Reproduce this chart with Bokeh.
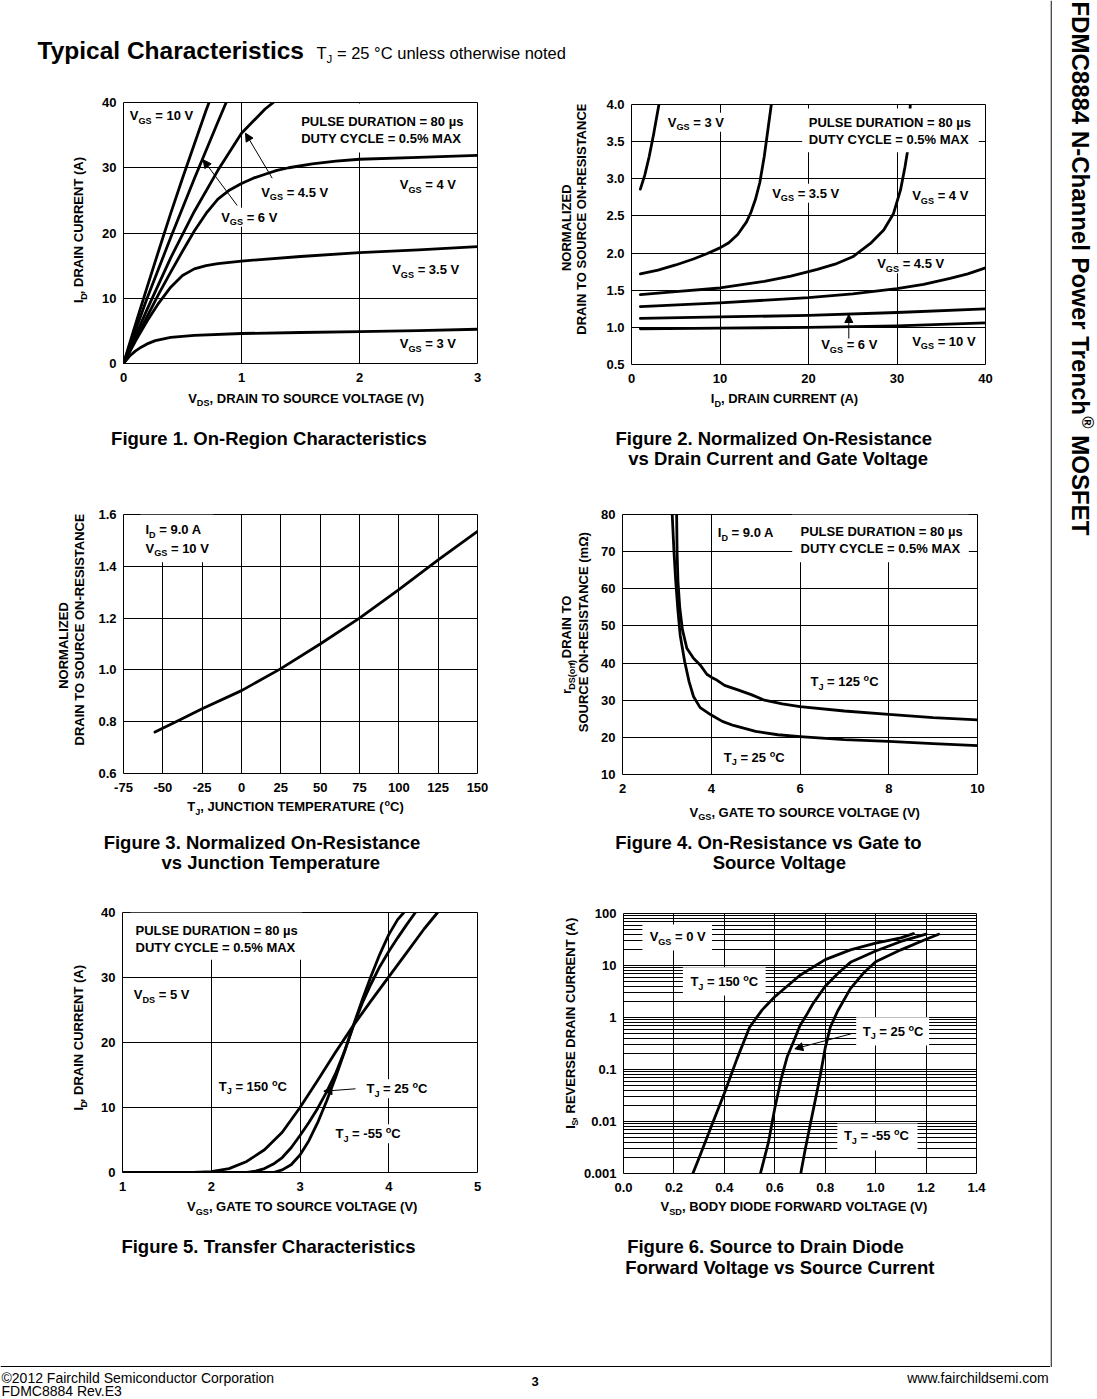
import math
import re
from bokeh.plotting import figure
from bokeh.models import (Range1d, Label, Arrow, NormalHead, FixedTicker, BoxAnnotation,
                          Span, CustomJSTickFormatter, PrintfTickFormatter)
from bokeh.layouts import row, column
from bokeh.embed import file_html
from bokeh.resources import INLINE

FONT = "Liberation Sans"

# ---------------- Figure 1: On-Region Characteristics ----------------
f1_vgs10_vds = [0, 0.1, 0.2, 0.3, 0.4, 0.5, 0.6, 0.7, 0.725]
f1_vgs10_id = [0, 5.9, 11.7, 17.4, 23.0, 28.4, 33.6, 38.8, 40.0]
f1_vgs6_vds = [0, 0.2, 0.4, 0.6, 0.8, 0.87]
f1_vgs6_id = [0, 10.0, 19.3, 28.3, 37.0, 40.0]
f1_vgs45_vds = [0, 0.2, 0.4, 0.6, 0.8, 1.0, 1.2, 1.27]
f1_vgs45_id = [0, 8.3, 16.2, 23.3, 29.6, 35.3, 39.0, 40.0]
f1_vgs4_vds = [0, 0.1, 0.2, 0.3, 0.4, 0.5, 0.6, 0.7, 0.8, 0.9, 1.0, 1.1, 1.2, 1.3, 1.4, 1.6, 1.8, 2.0, 2.5, 3.0]
f1_vgs4_id = [0, 3.6, 7.2, 10.7, 14.0, 17.2, 20.3, 23.0, 25.2, 26.6, 27.6, 28.4, 29.0, 29.6, 30.0, 30.6, 31.0, 31.3, 31.6, 31.9]
f1_vgs35_vds = [0, 0.1, 0.2, 0.3, 0.4, 0.5, 0.6, 0.7, 0.8, 1.0, 1.5, 2.0, 2.5, 3.0]
f1_vgs35_id = [0, 3.4, 6.5, 9.3, 11.7, 13.5, 14.5, 15.0, 15.3, 15.7, 16.4, 17.0, 17.4, 17.9]
f1_vgs3_vds = [0, 0.05, 0.1, 0.15, 0.2, 0.27, 0.4, 0.6, 1.0, 1.5, 2.0, 2.5, 3.0]
f1_vgs3_id = [0, 1.1, 1.9, 2.5, 3.0, 3.5, 4.0, 4.3, 4.6, 4.75, 4.9, 5.05, 5.25]
f1_xticks = [0, 1, 2, 3]
f1_yticks = [0, 10, 20, 30, 40]

# ---------------- Figure 2: Normalized On-Resistance vs I_D ----------------
f2_vgs3_id = [1.0, 1.5, 2.0, 2.5, 2.8, 3.1]
f2_vgs3_rn = [2.86, 3.05, 3.3, 3.6, 3.8, 4.0]
f2_vgs35_id = [1, 3, 5, 7, 8.5, 10, 11, 12, 13, 13.5, 14, 14.5, 15, 15.4, 15.8]
f2_vgs35_rn = [1.72, 1.77, 1.84, 1.92, 1.99, 2.07, 2.14, 2.25, 2.42, 2.55, 2.72, 2.95, 3.3, 3.65, 4.0]
f2_vgs4_id = [1, 5, 10, 15, 18, 21, 23, 25, 27, 28.5, 29.6, 30.4, 30.9, 31.3, 31.5]
f2_vgs4_rn = [1.44, 1.48, 1.53, 1.62, 1.69, 1.78, 1.85, 1.95, 2.13, 2.31, 2.53, 2.85, 3.16, 3.45, 4.0]
f2_vgs45_id = [1, 10, 20, 25, 30, 33, 36, 38, 40]
f2_vgs45_rn = [1.28, 1.33, 1.40, 1.45, 1.52, 1.58, 1.66, 1.72, 1.80]
f2_vgs6_id = [1, 10, 20, 30, 40]
f2_vgs6_rn = [1.12, 1.14, 1.16, 1.20, 1.25]
f2_vgs10_id = [1, 10, 20, 30, 40]
f2_vgs10_rn = [0.98, 0.99, 1.0, 1.02, 1.06]
f2_xticks = [0, 10, 20, 30, 40]
f2_yticks = [0.5, 1.0, 1.5, 2.0, 2.5, 3.0, 3.5, 4.0]

# ---------------- Figure 3: Normalized On-Resistance vs T_J ----------------
f3_tj = [-55, -40, -25, 0, 25, 50, 75, 100, 125, 150]
f3_rn = [0.76, 0.805, 0.85, 0.92, 1.005, 1.10, 1.20, 1.31, 1.425, 1.535]
f3_xticks = [-75, -50, -25, 0, 25, 50, 75, 100, 125, 150]
f3_yticks = [0.6, 0.8, 1.0, 1.2, 1.4, 1.6]

# ---------------- Figure 4: On-Resistance vs V_GS ----------------
f4_t25_vgs = [3.12, 3.16, 3.2, 3.25, 3.3, 3.4, 3.5, 3.6, 3.75, 4.0, 4.25, 4.5, 5.0, 5.5, 6.0, 7.0, 8.0, 9.0, 10.0]
f4_t25_r = [80, 70, 62, 54, 47.5, 40.5, 35, 31, 28, 26, 24.3, 23.2, 21.6, 20.7, 20.2, 19.4, 18.9, 18.3, 17.8]
f4_t125_vgs = [3.22, 3.23, 3.25, 3.29, 3.35, 3.45, 3.6, 3.75, 3.9, 4.0, 4.1, 4.3, 4.6, 4.9, 5.2, 5.6, 6.0, 7.0, 8.0, 9.0, 10.0]
f4_t125_r = [80, 70, 62, 55, 49, 44, 41.3, 39.5, 37, 36.2, 35.6, 34, 32.8, 31.5, 30, 29, 28.3, 27.1, 26.2, 25.3, 24.7]
f4_xticks = [2, 4, 6, 8, 10]
f4_yticks = [10, 20, 30, 40, 50, 60, 70, 80]

# ---------------- Figure 5: Transfer Characteristics ----------------
f5_t150_vgs = [1.0, 1.8, 2.0, 2.2, 2.4, 2.6, 2.8, 3.0, 3.2, 3.4, 3.6, 3.8, 4.0, 4.2, 4.4, 4.55]
f5_t150_id = [0, 0, 0.15, 0.6, 1.7, 3.5, 6.2, 10.0, 14.2, 18.5, 22.6, 26.4, 30.1, 33.8, 37.5, 40.0]
f5_t25_vgs = [1.0, 2.4, 2.5, 2.6, 2.7, 2.8, 2.9, 3.0, 3.1, 3.2, 3.3, 3.4, 3.5, 3.6, 3.7, 3.8, 3.9, 4.0, 4.1, 4.2, 4.3]
f5_t25_id = [0, 0, 0.2, 0.6, 1.3, 2.3, 3.8, 5.7, 7.7, 9.9, 12.4, 15.2, 18.6, 22.5, 26.0, 29.0, 31.7, 34.0, 36.1, 38.1, 40.0]
f5_tm55_vgs = [1.0, 2.7, 2.8, 2.9, 3.0, 3.1, 3.2, 3.3, 3.4, 3.5, 3.6, 3.7, 3.8, 3.9, 4.0, 4.1, 4.17]
f5_tm55_id = [0, 0, 0.4, 1.2, 2.7, 4.9, 7.7, 11.0, 14.6, 18.5, 22.6, 26.5, 30.2, 33.6, 36.6, 38.9, 40.0]
f5_xticks = [1, 2, 3, 4, 5]
f5_yticks = [0, 10, 20, 30, 40]

# ---------------- Figure 6: Source to Drain Diode Forward Voltage ----------------
f6_t150_vsd = [0.275, 0.3, 0.35, 0.4, 0.45, 0.5, 0.55, 0.6, 0.7, 0.8, 0.9, 1.0, 1.1, 1.15]
f6_t150_is = [0.001, 0.002, 0.0085, 0.035, 0.16, 0.65, 1.4, 2.5, 6.5, 13, 20, 27, 34, 41]
f6_t25_vsd = [0.543, 0.575, 0.6, 0.625, 0.65, 0.675, 0.7, 0.725, 0.75, 0.8, 0.85, 0.9, 1.0, 1.1, 1.2]
f6_t25_is = [0.001, 0.004, 0.018, 0.065, 0.18, 0.35, 0.7, 1.1, 1.8, 4.0, 7.0, 11.5, 19, 29, 40]
f6_tm55_vsd = [0.703, 0.72, 0.74, 0.76, 0.78, 0.8, 0.82, 0.85, 0.9, 0.95, 1.0, 1.1, 1.2, 1.25]
f6_tm55_is = [0.001, 0.0028, 0.0085, 0.025, 0.075, 0.26, 0.65, 1.35, 3.6, 7.0, 11.8, 20, 32, 40]
f6_xticks = [0.0, 0.2, 0.4, 0.6, 0.8, 1.0, 1.2, 1.4]
f6_yticks = [0.001, 0.01, 0.1, 1, 10, 100]

# ---------------- text metrics (Arial / Liberation Sans widths, 1/1000 em) ----------------
WB = {' ': 278, '%': 889, '(': 333, ')': 333, ',': 278, '-': 333, '.': 278, '=': 584,
      'µ': 611, 'Ω': 768, '°': 400, '®': 737, '©': 737, ':': 333}
WR = {' ': 278, '%': 889, '(': 333, ')': 333, ',': 278, '-': 333, '.': 278, '=': 584,
      'µ': 556, 'Ω': 768, '°': 400, '®': 737, '©': 737, ':': 278}
for _c in '0123456789':
    WB[_c] = 556
    WR[_c] = 556
WB.update(dict(zip('ABCDEFGHIJKLMNOPQRSTUVWXYZ',
                   [722, 722, 722, 722, 667, 611, 778, 722, 278, 556, 722, 611, 833, 722, 778, 667, 778, 722, 667, 611, 722, 667, 944, 667, 667, 611])))
WB.update(dict(zip('abcdefghijklmnopqrstuvwxyz',
                   [556, 611, 556, 611, 556, 333, 611, 611, 278, 278, 556, 278, 889, 611, 611, 611, 611, 389, 556, 333, 611, 556, 778, 556, 556, 500])))
WR.update(dict(zip('ABCDEFGHIJKLMNOPQRSTUVWXYZ',
                   [667, 667, 722, 722, 667, 611, 778, 722, 278, 500, 667, 556, 833, 722, 778, 667, 778, 722, 667, 611, 722, 667, 944, 667, 667, 611])))
WR.update(dict(zip('abcdefghijklmnopqrstuvwxyz',
                   [556, 556, 500, 556, 556, 278, 556, 556, 222, 222, 500, 222, 833, 556, 556, 556, 556, 333, 500, 278, 556, 500, 722, 500, 500, 500])))


class Pane:
    """A figure placed on the page; box = (x0, y0, x1, y1) in page pixels."""

    def __init__(self, box, frame=None, xr=None, yr=None, ylog=False,
                 xticks=None, yticks=None, yminor=None, xfmt=None, yfmt=None):
        x0, y0, x1, y1 = box
        self.ylog = ylog
        if frame is None:
            self.frame = box
            self.xr = (x0, x1)
            self.yr = (y1, y0)
            p = figure(width=x1 - x0, height=y1 - y0, x_range=Range1d(x0, x1),
                       y_range=Range1d(y1, y0), x_axis_type=None, y_axis_type=None,
                       output_backend="svg", toolbar_location=None, min_border=0, title=None)
            p.outline_line_color = None
        else:
            l, t, r, b = frame
            self.frame = frame
            self.xr = xr
            self.yr = yr
            p = figure(width=x1 - x0, height=y1 - y0, x_range=Range1d(*xr), y_range=Range1d(*yr),
                       y_axis_type="log" if ylog else "linear",
                       output_backend="svg", toolbar_location=None, title=None,
                       min_border_left=l - x0, min_border_right=x1 - r,
                       min_border_top=t - y0, min_border_bottom=y1 - b)
            xt = FixedTicker(ticks=xticks)
            yt = FixedTicker(ticks=yticks, minor_ticks=yminor or [])
            p.xaxis.ticker = xt
            p.yaxis.ticker = yt
            p.xgrid.ticker = xt
            p.ygrid.ticker = yt
            for ax in (p.xaxis[0], p.yaxis[0]):
                ax.axis_line_color = None
                ax.major_tick_line_color = None
                ax.minor_tick_line_color = None
                ax.major_tick_out = 0
                ax.major_tick_in = 0
                ax.minor_tick_out = 0
                ax.minor_tick_in = 0
                ax.major_label_text_font = FONT
                ax.major_label_text_font_size = "13px"
                ax.major_label_text_font_style = "bold"
                ax.major_label_text_color = "black"
            p.xaxis.major_label_standoff = 9
            p.yaxis.major_label_standoff = 7
            if xfmt is not None:
                p.xaxis.formatter = xfmt
            if yfmt is not None:
                p.yaxis.formatter = yfmt
            p.grid.grid_line_color = "black"
            p.grid.grid_line_alpha = 1.0
            p.grid.grid_line_width = 1
            if yminor:
                p.ygrid.minor_grid_line_color = "black"
                p.ygrid.minor_grid_line_alpha = 1.0
                p.ygrid.minor_grid_line_width = 1
            p.outline_line_color = "black"
            p.outline_line_width = 1
            p.outline_line_alpha = 1.0
        p.background_fill_color = "white"
        p.border_fill_color = "white"
        self.p = p

    def dx(self, px):
        l, t, r, b = self.frame
        return self.xr[0] + (px - l) / (r - l) * (self.xr[1] - self.xr[0])

    def dy(self, py):
        l, t, r, b = self.frame
        f = (b - py) / (b - t)
        if self.ylog:
            a, c = math.log10(self.yr[0]), math.log10(self.yr[1])
            return 10 ** (a + f * (c - a))
        return self.yr[0] + f * (self.yr[1] - self.yr[0])

    def curve(self, x, y, w=2.8):
        self.p.line(x, y, line_color="black", line_width=w, line_join="round", line_cap="round")


class Cell:
    """Chart figure plus text canvases to its left and below it."""

    def __init__(self, cell, frame, lb, bb=24, **kw):
        cx0, cy0, cx1, cy1 = cell
        l, t, r, b = frame
        self.chart = Pane((l - lb, cy0, cx1, b + bb), frame=frame, **kw)
        self.left = Pane((cx0, cy0, l - lb, b + bb))
        self.bottom = Pane((cx0, b + bb, cx1, cy1))
        self.layout = column(row(self.left.p, self.chart.p), self.bottom.p)


def parse(s):
    out = []
    for tok in re.split(r'(_\{[^}]*\}|\^\{[^}]*\})', s):
        if not tok:
            continue
        if tok.startswith('_{'):
            out.append((tok[2:-1], 'sub'))
        elif tok.startswith('^{'):
            out.append((tok[2:-1], 'sup'))
        else:
            out.append((tok, 'n'))
    return out


def add_box(pane, L, T, R, B):
    pane.p.add_layout(BoxAnnotation(left=pane.dx(L), right=pane.dx(R), top=pane.dy(T),
                                    bottom=pane.dy(B), fill_color="white", fill_alpha=1.0,
                                    line_color=None, line_alpha=0))


SHIFT = {'n': 0.0, 'sub': 0.405, 'sup': -0.275}


def rich(pane, px, py, markup, size=13, bold=True, align="left", angle=0.0, box=False, pad=3):
    """Text centred (vertically) on (px, py) page pixels, with sub/superscript pieces."""
    tbl = WB if bold else WR
    items = []
    pos = 0.0
    for t, k in parse(markup):
        s = size if k == 'n' else size * 0.7
        sp = tbl[' '] / 1000 * s
        lead = len(t) - len(t.lstrip(' '))
        core = t.strip(' ')
        trail = len(t) - lead - len(core)
        pos += lead * sp
        w = sum(tbl.get(c, 556) for c in core) / 1000 * s
        items.append((core, k, s, pos))
        pos += w + trail * sp
    total = pos
    s0 = {"left": 0.0, "center": -total / 2, "right": -total}[align]
    if angle == 0:
        d, n = (1, 0), (0, 1)
    elif angle > 0:
        d, n = (0, -1), (1, 0)
    else:
        d, n = (0, 1), (-1, 0)
    if box:
        add_box(pane, px + s0 - pad, py - 0.5 * size - pad, px + s0 + total + pad, py + 0.5 * size + pad)
    for core, k, s, off in items:
        if not core:
            continue
        base = SHIFT[k] * size
        a = s0 + off
        X = px + d[0] * a + n[0] * base
        Y = py + d[1] * a + n[1] * base
        pane.p.add_layout(Label(x=pane.dx(X), y=pane.dy(Y), text=core, angle=angle,
                                text_align="left", text_baseline="middle",
                                text_font=FONT, text_font_size=f"{s:.1f}px",
                                text_font_style="bold" if bold else "normal",
                                text_color="black"))


def arrow(pane, x0, y0, x1, y1):
    pane.p.add_layout(Arrow(end=NormalHead(size=8, fill_color="black", line_color="black", line_width=1),
                            x_start=pane.dx(x0), y_start=pane.dy(y0),
                            x_end=pane.dx(x1), y_end=pane.dy(y1),
                            line_color="black", line_width=1))


CAP = 18.5
ONE_DEC = PrintfTickFormatter(format="%.1f")

# ---------------- header ----------------
hdr = Pane((0, 0, 1050, 80))
rich(hdr, 37, 50, "Typical Characteristics", size=24.5)
rich(hdr, 316, 52, "T_{J} = 25 °C unless otherwise noted", size=16.5, bold=False)

# ---------------- figure 1 ----------------
c1 = Cell((0, 80, 548, 480), (123, 102, 477, 363), 30, xr=(0, 3), yr=(0, 40),
          xticks=f1_xticks, yticks=f1_yticks)
f1 = c1.chart
f1.curve(f1_vgs10_vds, f1_vgs10_id)
f1.curve(f1_vgs6_vds, f1_vgs6_id)
f1.curve(f1_vgs45_vds, f1_vgs45_id)
f1.curve(f1_vgs4_vds, f1_vgs4_id)
f1.curve(f1_vgs35_vds, f1_vgs35_id)
f1.curve(f1_vgs3_vds, f1_vgs3_id)
add_box(f1, 295, 103, 466, 152)
rich(f1, 300.7, 121, "PULSE DURATION = 80 µs")
rich(f1, 300.7, 137.5, "DUTY CYCLE = 0.5% MAX")
rich(f1, 129.3, 115, "V_{GS} = 10 V", box=True)
rich(f1, 260.7, 191.7, "V_{GS} = 4.5 V", box=True)
rich(f1, 220.7, 216.7, "V_{GS} = 6 V", box=True)
rich(f1, 399.3, 184.3, "V_{GS} = 4 V", box=True)
rich(f1, 391.7, 269, "V_{GS} = 3.5 V", box=True)
rich(f1, 399.3, 343.3, "V_{GS} = 3 V", box=True)
arrow(f1, 271.7, 177.7, 245, 132.7)
arrow(f1, 236.7, 205, 202.7, 159.3)
rich(c1.bottom, 306.7, 397.7, "V_{DS}, DRAIN TO SOURCE VOLTAGE (V)", align="center")
rich(c1.left, 78, 242, "I_{D}, DRAIN CURRENT (A)", align="center", angle=math.pi / 2)
rich(c1.bottom, 271, 438.3, "Figure 1.  On-Region Characteristics", size=CAP, align="center")

# ---------------- figure 2 ----------------
c2 = Cell((548, 80, 1050, 480), (631, 104, 985, 364), 40, xr=(0, 40), yr=(0.5, 4.0),
          xticks=f2_xticks, yticks=f2_yticks, yfmt=ONE_DEC)
f2 = c2.chart
f2.curve(f2_vgs3_id, f2_vgs3_rn)
f2.curve(f2_vgs35_id, f2_vgs35_rn)
f2.curve(f2_vgs4_id, f2_vgs4_rn)
f2.curve(f2_vgs45_id, f2_vgs45_rn)
f2.curve(f2_vgs6_id, f2_vgs6_rn)
f2.curve(f2_vgs10_id, f2_vgs10_rn)
add_box(f2, 801.7, 108, 978.3, 151.7)
rich(f2, 808.3, 121.7, "PULSE DURATION = 80 µs")
rich(f2, 808.3, 139, "DUTY CYCLE = 0.5% MAX")
rich(f2, 667.3, 121.7, "V_{GS} = 3 V", box=True)
rich(f2, 771.7, 192.7, "V_{GS} = 3.5 V", box=True)
rich(f2, 911.7, 195, "V_{GS} = 4 V", box=True)
rich(f2, 876.7, 263.3, "V_{GS} = 4.5 V", box=True)
rich(f2, 820.7, 344, "V_{GS} = 6 V", box=True)
rich(f2, 911.7, 340.7, "V_{GS} = 10 V", box=True)
arrow(f2, 848.3, 338, 848.3, 314)
rich(c2.bottom, 784, 398.3, "I_{D}, DRAIN CURRENT (A)", align="center")
rich(c2.left, 566, 234, "NORMALIZED", align="center", angle=math.pi / 2)
rich(c2.left, 581, 236, "DRAIN TO SOURCE ON-RESISTANCE", align="center", angle=math.pi / 2)
rich(c2.bottom, 773.3, 437.7, "Figure 2. Normalized On-Resistance", size=CAP, align="center")
rich(c2.bottom, 778.3, 458.3, "vs Drain Current and Gate Voltage", size=CAP, align="center")

# ---------------- figure 3 ----------------
c3 = Cell((0, 480, 548, 880), (123, 514, 477, 773), 30, xr=(-75, 150), yr=(0.6, 1.6),
          xticks=f3_xticks, yticks=f3_yticks, xfmt=PrintfTickFormatter(format="%d"), yfmt=ONE_DEC)
f3 = c3.chart
f3.curve(f3_tj, f3_rn)
add_box(f3, 140, 514, 213, 561.7)
rich(f3, 145, 529.3, "I_{D} = 9.0 A")
rich(f3, 145, 547.7, "V_{GS} = 10 V")
rich(c3.bottom, 295, 806, "T_{J}, JUNCTION TEMPERATURE (^{o}C)", align="center")
rich(c3.left, 63, 650, "NORMALIZED", align="center", angle=math.pi / 2)
rich(c3.left, 79, 646, "DRAIN TO SOURCE ON-RESISTANCE", align="center", angle=math.pi / 2)
rich(c3.bottom, 261.5, 842, "Figure 3. Normalized On-Resistance", size=CAP, align="center")
rich(c3.bottom, 271, 862, "vs Junction Temperature", size=CAP, align="center")

# ---------------- figure 4 ----------------
c4 = Cell((548, 480, 1050, 880), (622, 514, 977, 774), 30, xr=(2, 10), yr=(10, 80),
          xticks=f4_xticks, yticks=f4_yticks)
f4 = c4.chart
f4.curve(f4_t25_vgs, f4_t25_r)
f4.curve(f4_t125_vgs, f4_t125_r)
add_box(f4, 791.7, 514, 968.3, 561.7)
rich(f4, 800, 531, "PULSE DURATION = 80 µs")
rich(f4, 800, 547.7, "DUTY CYCLE = 0.5% MAX")
rich(f4, 717.3, 532.3, "I_{D} = 9.0 A", box=True)
rich(f4, 810, 681, "T_{J} = 125 ^{o}C", box=True)
rich(f4, 723.3, 756.7, "T_{J} = 25 ^{o}C", box=True)
rich(c4.bottom, 805.8, 811.7, "V_{GS}, GATE TO SOURCE VOLTAGE (V)", align="center")
rich(c4.left, 566, 647, "r_{DS(on)}, DRAIN TO", align="center", angle=math.pi / 2)
rich(c4.left, 583, 646, "SOURCE ON-RESISTANCE (mΩ)", align="center", angle=math.pi / 2)
rich(c4.bottom, 770.5, 842, "Figure 4.  On-Resistance vs Gate to", size=CAP, align="center")
rich(c4.bottom, 779.5, 862, "Source Voltage", size=CAP, align="center")

# ---------------- figure 5 ----------------
c5 = Cell((0, 880, 548, 1290), (122, 912, 477, 1172), 30, xr=(1, 5), yr=(0, 40),
          xticks=f5_xticks, yticks=f5_yticks)
f5 = c5.chart
f5.curve(f5_t150_vgs, f5_t150_id)
f5.curve(f5_t25_vgs, f5_t25_id)
f5.curve(f5_tm55_vgs, f5_tm55_id)
add_box(f5, 130, 912, 301.7, 959.3)
rich(f5, 135, 930, "PULSE DURATION = 80 µs")
rich(f5, 135, 946.7, "DUTY CYCLE = 0.5% MAX")
rich(f5, 133.3, 994.3, "V_{DS} = 5 V", box=True)
rich(f5, 218.3, 1085.7, "T_{J} = 150 ^{o}C", box=True)
rich(f5, 366, 1088.3, "T_{J} = 25 ^{o}C", box=True)
rich(f5, 335, 1133.3, "T_{J} = -55 ^{o}C", box=True)
arrow(f5, 355, 1088.3, 323.3, 1090.7)
rich(c5.bottom, 303.3, 1206, "V_{GS}, GATE TO SOURCE VOLTAGE (V)", align="center")
rich(c5.left, 78, 1047, "I_{D}, DRAIN CURRENT (A)", align="center", angle=math.pi / 2)
rich(c5.bottom, 271, 1246, "Figure 5.  Transfer Characteristics", size=CAP, align="center")

# ---------------- figure 6 ----------------
f6_minor = [m * 10.0 ** e for e in range(-3, 2) for m in range(2, 10)]
c6 = Cell((548, 880, 1050, 1290), (621, 913, 976, 1173), 41, xr=(0, 1.4), yr=(0.001, 100),
          ylog=True, xticks=f6_xticks, yticks=f6_yticks, yminor=f6_minor, xfmt=ONE_DEC,
          yfmt=CustomJSTickFormatter(code="return String(tick);"))
f6 = c6.chart
f6.curve(f6_t150_vsd, f6_t150_is)
f6.curve(f6_t25_vsd, f6_t25_is)
f6.curve(f6_tm55_vsd, f6_tm55_is)
add_box(f6, 640, 924, 710, 950)
rich(f6, 647.3, 936, "V_{GS} = 0 V")
add_box(f6, 680.7, 966.7, 764, 995)
rich(f6, 688.3, 981, "T_{J} = 150 ^{o}C")
add_box(f6, 855, 1016.7, 928.3, 1045)
rich(f6, 861.7, 1030.7, "T_{J} = 25 ^{o}C")
add_box(f6, 836, 1123, 916.7, 1150)
rich(f6, 842.7, 1135.3, "T_{J} = -55 ^{o}C")
arrow(f6, 850, 1033.3, 793.3, 1048.3)
rich(c6.bottom, 795, 1206, "V_{SD}, BODY DIODE FORWARD VOLTAGE (V)", align="center")
rich(c6.left, 569.5, 1036, "I_{S}, REVERSE DRAIN CURRENT (A)", align="center", angle=math.pi / 2)
rich(c6.bottom, 767.5, 1246, "Figure 6.  Source to Drain Diode", size=CAP, align="center")
rich(c6.bottom, 780, 1267, "Forward Voltage vs Source Current", size=CAP, align="center")

# ---------------- footer ----------------
ftr = Pane((0, 1290, 1050, 1399))
ftr.p.add_layout(Span(location=1366, dimension="width", line_color="black", line_width=1))
rich(ftr, 1, 1377, "©2012 Fairchild Semiconductor Corporation", size=14, bold=False)
rich(ftr, 531, 1381, "3", size=13)
rich(ftr, 1049, 1377, "www.fairchildsemi.com", size=14, bold=False, align="right")
rich(ftr, 1, 1390.5, "FDMC8884 Rev.E3", size=14, bold=False)

# ---------------- side title ----------------
side = Pane((1050, 0, 1097, 1399))
side.p.add_layout(BoxAnnotation(left=1050, right=1051.2, top=0, bottom=1366.5, fill_color="black",
                                fill_alpha=1.0, line_color=None, line_alpha=0))
rich(side, 1080.4, 1, "FDMC8884 N-Channel Power Trench^{®} MOSFET", size=24, angle=-math.pi / 2)

layout = row(column(hdr.p, row(c1.layout, c2.layout), row(c3.layout, c4.layout),
                    row(c5.layout, c6.layout), ftr.p), side.p)

open("out.html", "w").write(file_html(layout, INLINE))
